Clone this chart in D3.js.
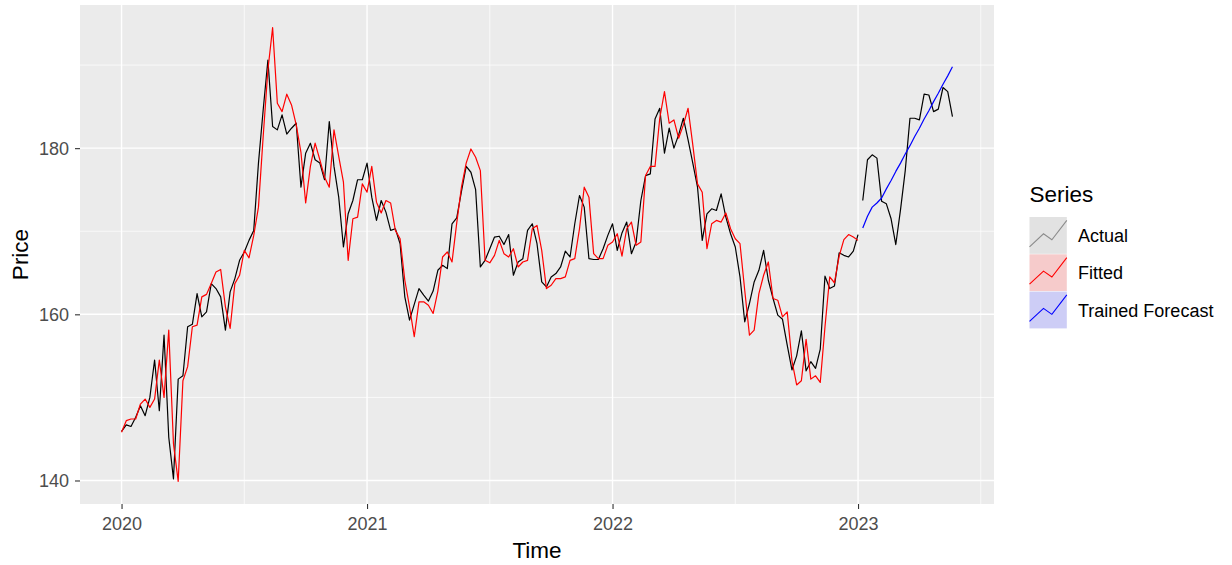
<!DOCTYPE html>
<html>
<head>
<meta charset="utf-8">
<script src="https://cdn.jsdelivr.net/npm/d3@7"></script>
<style>
  body { margin: 0; background: #ffffff; }
  svg text { font-family: "Liberation Sans", Arial, sans-serif; }
</style>
</head>
<body>
<svg id="chart" width="1232" height="565"></svg>
<script>
// Weekly series starting at 2020 week 1
const startYear = 2020;
const weeksPerYear = 52;

// Observed prices over the training window
const actualTrain = [
  145.9, 146.7, 146.5, 147.6, 149.0, 147.8, 150.0, 154.5, 148.4, 157.5,
  145.2, 140.2, 152.2, 152.6, 158.5, 158.8, 162.5, 159.7, 160.3, 163.7,
  163.1, 162.1, 158.1, 162.7, 164.3, 166.5, 167.5, 168.9, 170.1, 178.2,
  184.6, 190.6, 182.6, 182.2, 184.0, 181.7, 182.4, 183.0, 175.3, 179.4,
  180.6, 178.6, 178.2, 176.2, 183.2, 177.8, 174.1, 168.1, 172.1, 173.7,
  176.2, 176.2, 178.2, 174.1, 171.3, 173.7, 172.3, 170.1, 170.3, 168.5,
  162.1, 159.3, 161.2, 163.1, 162.3, 161.6, 162.8, 165.3, 165.9, 165.5,
  170.9, 171.6, 174.8, 177.8, 177.1, 175.0, 165.7, 166.5, 167.9, 169.3,
  169.4, 168.4, 169.6, 164.7, 166.3, 166.7, 170.1, 170.9, 168.5, 163.9,
  163.3, 164.5, 164.9, 165.7, 167.6, 166.9, 170.9, 174.3, 172.9, 166.7,
  166.6, 166.6, 167.9, 169.5, 170.9, 167.7, 169.8, 171.1, 167.3, 168.7,
  173.7, 176.7, 176.9, 183.5, 184.8, 179.4, 182.4, 180.0, 181.6, 183.6,
  181.0, 178.2, 175.3, 168.9, 172.1, 172.7, 172.5, 174.5, 171.7, 169.7,
  168.1, 164.5, 159.1, 161.3, 163.9, 165.3, 167.7, 164.1, 161.9, 159.9,
  159.4, 156.3, 153.3, 155.0, 158.0, 153.2, 154.3, 153.5, 155.8, 164.6,
  163.1, 163.4, 167.4, 167.1, 166.9, 167.6, 169.6
];

// In-sample fitted values of the model
const fittedTrain = [
  145.8, 147.2, 147.4, 147.4, 149.2, 149.8, 148.8, 149.8, 154.5, 150.0,
  158.1, 144.4, 139.9, 152.0, 153.7, 158.5, 158.7, 162.1, 162.4, 163.7,
  165.1, 165.4, 160.9, 158.3, 163.7, 164.7, 167.7, 166.8, 169.5, 172.9,
  181.4, 189.4, 194.5, 185.4, 184.4, 186.5, 185.2, 182.8, 179.5, 173.4,
  177.8, 180.6, 178.6, 176.5, 175.3, 182.2, 179.0, 175.9, 166.5, 171.5,
  171.7, 175.7, 174.7, 177.8, 173.5, 172.2, 173.7, 173.4, 170.1, 169.1,
  164.1, 160.9, 157.3, 161.5, 161.5, 161.1, 160.1, 162.8, 166.9, 167.5,
  166.3, 171.0, 175.3, 178.2, 179.9, 178.9, 177.3, 166.5, 166.2, 167.1,
  168.9, 167.3, 166.9, 167.9, 165.7, 166.3, 166.5, 170.3, 170.7, 167.7,
  163.1, 163.5, 164.3, 164.3, 164.5, 166.5, 166.7, 170.3, 175.3, 174.1,
  167.3, 166.7, 166.7, 168.3, 168.7, 169.7, 167.0, 170.3, 171.1, 168.3,
  168.7, 176.7, 177.8, 177.8, 183.6, 186.8, 183.0, 183.4, 181.2, 182.8,
  184.8, 180.4, 175.7, 174.7, 167.9, 170.9, 171.3, 171.1, 172.2, 170.3,
  169.1, 168.5, 162.9, 157.5, 158.1, 162.5, 164.7, 166.3, 161.9, 161.7,
  159.7, 160.3, 154.4, 151.5, 152.0, 157.0, 152.2, 152.6, 151.8, 158.5,
  164.5, 163.8, 167.0, 169.0, 169.6, 169.3, 168.9
];

// Observed prices over the hold-out window
const actualTest = [
  173.7, 178.6, 179.2, 178.8, 173.6, 173.3, 171.5, 168.4, 172.6, 177.3,
  183.6, 183.6, 183.4, 186.5, 186.4, 184.4, 184.7, 187.3, 186.8, 183.8
];

// Forecast from the trained model over the hold-out window
const forecastValues = [
  170.4, 171.8, 172.9, 173.4, 174.0, 175.1, 176.1, 177.2, 178.2, 179.3,
  180.3, 181.4, 182.4, 183.5, 184.5, 185.6, 186.6, 187.7, 188.7, 189.8
];

const xTickYears = [2020, 2021, 2022, 2023];
const xMinorYears = [2020.5, 2021.5, 2022.5, 2023.5];
const yTickValues = [140, 160, 180];
const yMinorValues = [150, 170, 190];
const seriesNames = ["Actual", "Fitted", "Trained Forecast"];
const seriesColors = ["#000000", "#ff0000", "#0000ff"];
const keyLineColors = ["#8c8c8c", "#ff0000", "#0000ff"];
const keyFills = ["#e2e2e2", "#f6cbcb", "#cdcdf6"];

// ---- build point lists ----
const toTime = i => startYear + i / weeksPerYear;
const trainPts = actualTrain.map((v, i) => ({ t: toTime(i), v }));
const fittedPts = fittedTrain.map((v, i) => ({ t: toTime(i), v }));
const testStart = actualTrain.length;
const testPts = actualTest.map((v, i) => ({ t: toTime(testStart + i), v }));
const fcPts = forecastValues.map((v, i) => ({ t: toTime(testStart + i), v }));

// ---- layout ----
const panel = { left: 80, right: 994, top: 5, bottom: 504 };
const svg = d3.select("#chart");

// ggplot-style 5% expansion around the data range
function expand(ext, mult) {
  const r = ext[1] - ext[0];
  return [ext[0] - r * mult, ext[1] + r * mult];
}
const allPts = trainPts.concat(fittedPts, testPts, fcPts);
const xDom = expand(d3.extent(allPts, d => d.t), 0.05);
const yDom = expand(d3.extent(allPts, d => d.v), 0.05);

const x = d3.scaleLinear().domain(xDom).range([panel.left, panel.right]);
const y = d3.scaleLinear().domain(yDom).range([panel.bottom, panel.top]);

// panel background
svg.append("rect")
  .attr("x", panel.left).attr("y", panel.top)
  .attr("width", panel.right - panel.left)
  .attr("height", panel.bottom - panel.top)
  .attr("fill", "#ebebeb");

const grid = svg.append("g");
// minor grid
grid.selectAll(".hmin").data(yMinorValues).join("line")
  .attr("x1", panel.left).attr("x2", panel.right)
  .attr("y1", d => y(d)).attr("y2", d => y(d))
  .attr("stroke", "#ffffff").attr("stroke-width", 0.7);
grid.selectAll(".vmin").data(xMinorYears).join("line")
  .attr("y1", panel.top).attr("y2", panel.bottom)
  .attr("x1", d => x(d)).attr("x2", d => x(d))
  .attr("stroke", "#ffffff").attr("stroke-width", 0.7);
// major grid
grid.selectAll(".hmaj").data(yTickValues).join("line")
  .attr("x1", panel.left).attr("x2", panel.right)
  .attr("y1", d => y(d)).attr("y2", d => y(d))
  .attr("stroke", "#ffffff").attr("stroke-width", 1.4);
grid.selectAll(".vmaj").data(xTickYears).join("line")
  .attr("y1", panel.top).attr("y2", panel.bottom)
  .attr("x1", d => x(d)).attr("x2", d => x(d))
  .attr("stroke", "#ffffff").attr("stroke-width", 1.4);

// clip series to the panel
svg.append("defs").append("clipPath").attr("id", "panelClip")
  .append("rect")
  .attr("x", panel.left).attr("y", panel.top)
  .attr("width", panel.right - panel.left)
  .attr("height", panel.bottom - panel.top);

const line = d3.line().x(d => x(d.t)).y(d => y(d.v));
const lines = svg.append("g").attr("clip-path", "url(#panelClip)");
lines.append("path").datum(trainPts)
  .attr("d", line).attr("fill", "none")
  .attr("stroke", seriesColors[0]).attr("stroke-width", 1.2)
  .attr("stroke-linejoin", "round");
lines.append("path").datum(testPts)
  .attr("d", line).attr("fill", "none")
  .attr("stroke", seriesColors[0]).attr("stroke-width", 1.2)
  .attr("stroke-linejoin", "round");
lines.append("path").datum(fittedPts)
  .attr("d", line).attr("fill", "none")
  .attr("stroke", seriesColors[1]).attr("stroke-width", 1.2)
  .attr("stroke-linejoin", "round");
lines.append("path").datum(fcPts)
  .attr("d", line).attr("fill", "none")
  .attr("stroke", seriesColors[2]).attr("stroke-width", 1.2)
  .attr("stroke-linejoin", "round");

// ---- axes ----
const yAxis = svg.append("g")
  .attr("transform", `translate(${panel.left},0)`)
  .call(d3.axisLeft(y).tickValues(yTickValues).tickSize(5).tickPadding(6).tickFormat(d3.format("d")));
const xAxis = svg.append("g")
  .attr("transform", `translate(0,${panel.bottom})`)
  .call(d3.axisBottom(x).tickValues(xTickYears).tickSize(5).tickPadding(5).tickFormat(d3.format("d")));

[yAxis, xAxis].forEach(ax => {
  ax.select(".domain").remove();
  ax.selectAll(".tick line").attr("stroke", "#333333").attr("stroke-width", 1.1);
  ax.selectAll(".tick text")
    .attr("fill", "#4d4d4d")
    .style("font-size", "18px")
    .style("font-family", "'Liberation Sans', Arial, sans-serif");
});
yAxis.selectAll(".tick text").attr("dy", "0.35em");
xAxis.selectAll(".tick text").attr("y", 26).attr("dy", 0);

// axis titles
svg.append("text")
  .attr("x", (panel.left + panel.right) / 2).attr("y", 558)
  .attr("text-anchor", "middle")
  .style("font-size", "22.5px").attr("fill", "#000")
  .text("Time");
svg.append("text")
  .attr("transform", `translate(28,${(panel.top + panel.bottom) / 2}) rotate(-90)`)
  .attr("text-anchor", "middle")
  .style("font-size", "22.5px").attr("fill", "#000")
  .text("Price");

// ---- legend ----
const legend = svg.append("g").attr("transform", "translate(1029.5,0)");
legend.append("text")
  .attr("x", 0).attr("y", 202)
  .style("font-size", "22.5px").attr("fill", "#000")
  .text("Series");

const keySize = 37.3;
const keyTop = 217;
const glyph = [[0, 0.80], [0.375, 0.45], [0.6, 0.61], [1, 0.09]];
const keyLine = d3.line().x(p => p[0] * keySize).y(p => p[1] * keySize);

const keys = legend.selectAll(".key").data(seriesNames).join("g")
  .attr("transform", (d, i) => `translate(0,${keyTop + i * keySize})`);
keys.append("rect")
  .attr("width", keySize).attr("height", keySize - 0.5)
  .attr("fill", (d, i) => keyFills[i]);
keys.append("path")
  .attr("d", keyLine(glyph))
  .attr("fill", "none")
  .attr("stroke", (d, i) => keyLineColors[i])
  .attr("stroke-width", 1.1);
keys.append("text")
  .attr("x", 48.5).attr("y", keySize / 2)
  .attr("dy", "0.36em")
  .style("font-size", "18px").attr("fill", "#000")
  .text(d => d);
</script>
</body>
</html>
